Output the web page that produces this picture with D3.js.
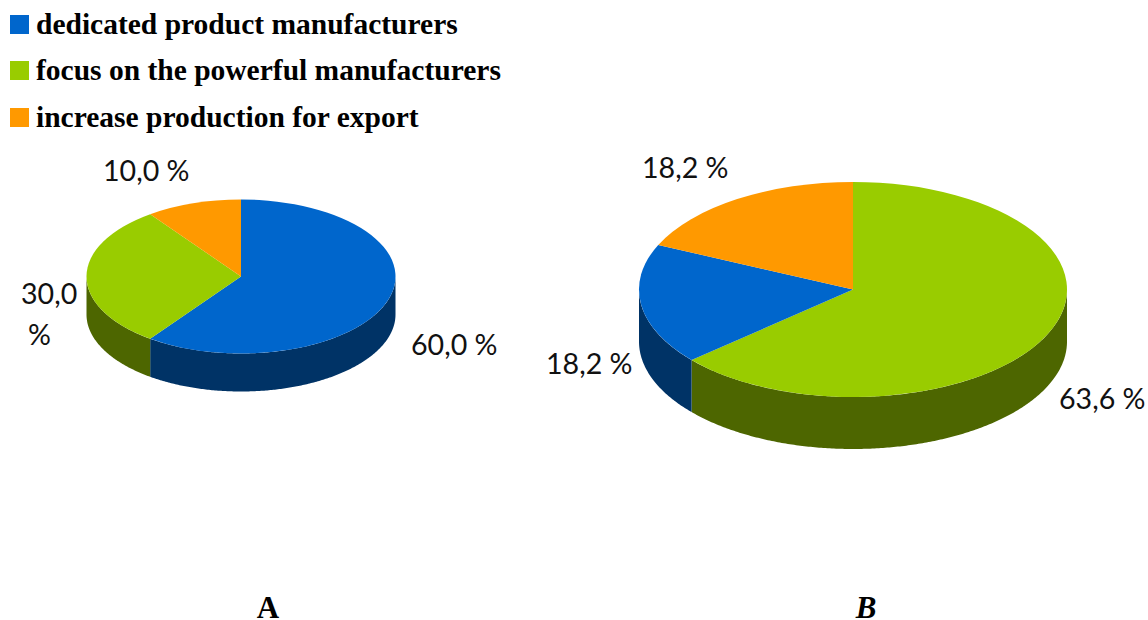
<!DOCTYPE html>
<html lang="en">
<head>
    <meta charset="utf-8">
    <title>Pie charts A and B</title>
    <script src="https://d3js.org/d3.v7.min.js"></script>
    <style>
        html,body{margin:0;padding:0;background:#fff;overflow:hidden}
        svg{display:block}
        .legend{font:bold 29.5px "Liberation Serif",serif;fill:#000}
        .label{font:28.6px Lato,"Open Sans",sans-serif;fill:#111}
        .title{font:bold 31px "Liberation Serif",serif;fill:#000}
    </style>
</head>
<body>
<svg width="1148" height="620"></svg>
<script>
    // data
    var categories = ["dedicated product manufacturers","focus on the powerful manufacturers","increase production for export"];
    var valuesA = [60.0,30.0,10.0];
    var valuesB = [18.2,63.6,18.2];
    var orderA = [0,1,2];//clockwise from the top
    var orderB = [1,0,2];

    var topColors = ["#0066cc","#99cc00","#ff9900"];
    var wallColors = ["#003366","#4d6600","#804d00"];

    var svg = d3.select("svg");

    //legend
    var legendY = [15,61,108];
    var legend = svg.selectAll(".lg").data(categories).enter().append("g")
        .attr("transform",function(d,i){return "translate(10,"+legendY[i]+")";});
    legend.append("rect").attr("width",19).attr("height",19)
        .attr("fill",function(d,i){return topColors[i];});
    legend.append("text").attr("class","legend").attr("x",26).attr("y",19).text(function(d){return d;});

    function fmt(v){ return v.toFixed(1).replace(".",",")+" %"; }

    //one 3d pie: top face is a d3.arc squashed to an ellipse, the wall is a d3.area below the rim
    function drawPie(values,order,box){
        var data = order.map(function(i){return {cat:i,value:values[i]};});
        var pieData = d3.pie().sort(null).value(function(d){return d.value;})(data);
        var g = svg.append("g");
        var rimX = function(a){return box.cx+box.rx*Math.sin(a);};
        var rimY = function(a){return box.cy-box.ry*Math.cos(a);};
        var wall = d3.area()
            .x(rimX)
            .y0(rimY)
            .y1(function(a){return rimY(a)+box.depth;});

        pieData.forEach(function(d){
            var from = Math.max(d.startAngle,Math.PI/2);
            var to = Math.min(d.endAngle,Math.PI*1.5);
            if(from>=to) return;
            var steps = d3.range(from,to,0.01).concat([to]);
            g.append("path").attr("d",wall(steps))
                .attr("fill",wallColors[d.data.cat]);
        });

        var arc = d3.arc().innerRadius(0).outerRadius(box.rx);
        g.selectAll(".slice").data(pieData).enter().append("path")
            .attr("class","slice")
            .attr("transform","translate("+box.cx+","+box.cy+") scale(1,"+(box.ry/box.rx)+")")
            .attr("d",arc)
            .attr("fill",function(d){return topColors[d.data.cat];});
    }

    drawPie(valuesA,orderA,{cx:241,cy:276.5,rx:154.5,ry:77,depth:38});
    drawPie(valuesB,orderB,{cx:853,cy:289.5,rx:214,ry:107.5,depth:52});

    //value labels, A then B
    var labelPos = [
        {t:fmt(valuesA[2]),x:103,y:181},
        {t:"30,0",x:21,y:304},
        {t:"%",x:28,y:345},
        {t:fmt(valuesA[0]),x:411,y:355},
        {t:fmt(valuesB[2]),x:642,y:178},
        {t:fmt(valuesB[0]),x:546,y:374},
        {t:fmt(valuesB[1]),x:1059,y:409}
    ];
    svg.selectAll(".label").data(labelPos).enter().append("text")
        .attr("class","label")
        .attr("x",function(d){return d.x;})
        .attr("y",function(d){return d.y;})
        .text(function(d){return d.t;});

    svg.append("text").attr("class","title").attr("x",268).attr("y",618)
        .attr("text-anchor","middle").text("A");
    svg.append("text").attr("class","title").attr("x",866).attr("y",618)
        .attr("text-anchor","middle").style("font-style","italic").text("B");
</script>
</body>
</html>
